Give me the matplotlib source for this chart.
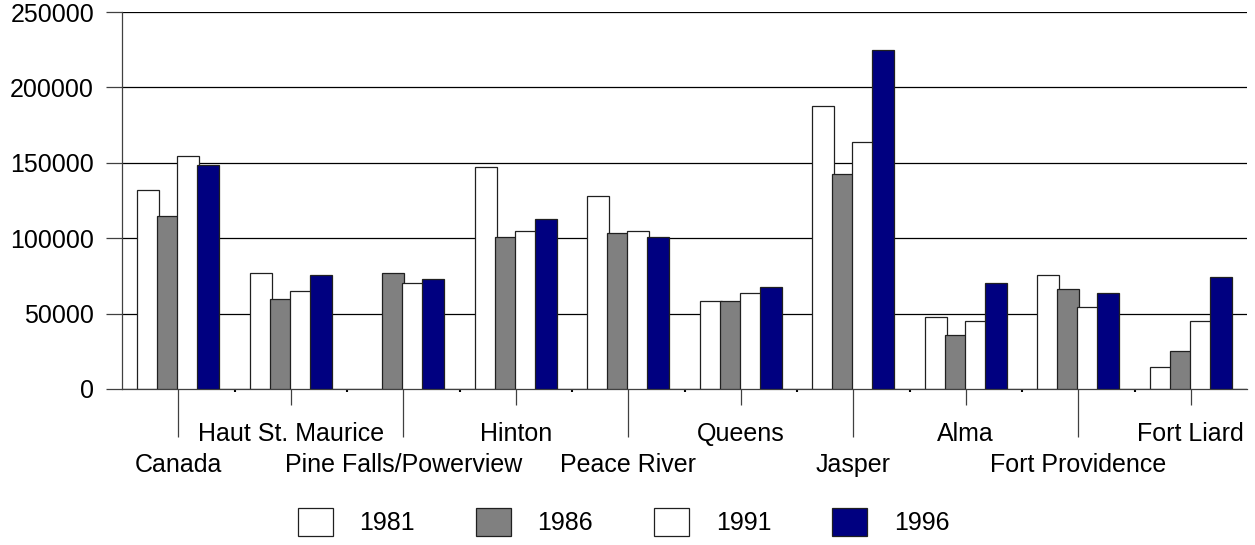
import numpy as np
import matplotlib.pyplot as plt

plt.rcParams['font.family'] = ['Liberation Sans', 'DejaVu Sans']

places = ['Canada', 'Haut St. Maurice', 'Pine Falls/Powerview', 'Hinton', 'Peace River',
          'Queens', 'Jasper', 'Alma', 'Fort Providence', 'Fort Liard']
years = ['1981', '1986', '1991', '1996']

# one list per census year, same order as places (nan = no figure)
v1981 = [132000, 76700, np.nan, 147000, 128200, 58100, 187700, 47500, 75600, 14400]
v1986 = [115000, 59500, 76700, 100600, 103200, 58100, 142800, 35800, 66100, 25200]
v1991 = [154700, 65000, 70100, 104600, 104600, 63700, 163800, 45100, 54100, 45100]
v1996 = [148500, 75400, 72700, 112500, 100500, 67600, 224600, 70100, 63700, 74100]
series = [v1981, v1986, v1991, v1996]

colors = ['white', '#808080', 'white', '#000080']
edge = '#202020'
axis_col = '#404040'
FS = 18

fig = plt.figure(figsize=(12.55, 5.45), dpi=100)
ax = fig.add_axes([122 / 1255, 1 - 389 / 545, 1125 / 1255, 377 / 545])

x = np.arange(len(places))
step = 0.178
width = 0.195
for i, (vals, col, yr) in enumerate(zip(series, colors, years)):
    ax.bar(x + (i - 1.5) * step, vals, width=width, color=col, edgecolor=edge,
           linewidth=0.9, label=yr, zorder=2 + i)

ax.set_xlim(-0.5, len(places) - 0.5)
ax.set_ylim(0, 250000)
ax.set_yticks(np.arange(0, 250001, 50000))
ax.yaxis.grid(True, color='black', linewidth=0.9)
ax.set_axisbelow(True)

for s in ['top', 'right']:
    ax.spines[s].set_visible(False)
for s in ['left', 'bottom']:
    ax.spines[s].set_color(axis_col)
    ax.spines[s].set_linewidth(0.9)

ax.tick_params(axis='y', length=11.5, pad=8.6, width=0.9, color=axis_col, labelsize=FS)

# staggered category labels: even ones on the lower row with long leader ticks
ax.set_xticks(x[::2], places[::2])
ax.set_xticks(x[1::2], places[1::2], minor=True)
ax.tick_params(axis='x', which='major', length=34.6, pad=11.4, width=0.9, color=axis_col,
               labelsize=FS)
ax.tick_params(axis='x', which='minor', length=11.5, pad=12.3, width=0.9, color=axis_col,
               labelsize=FS)

# little marks between the groups
sec = ax.secondary_xaxis('bottom')
sec.set_xticks(np.arange(0.5, len(places) - 0.5, 1))
sec.tick_params(length=2, width=1.5, color='black', labelbottom=False)
sec.spines['bottom'].set_visible(False)

fig.legend(loc='center', bbox_to_anchor=(0.497, 1 - 522 / 545), ncol=4, frameon=False,
           fontsize=FS, handlelength=1.4, handleheight=1.36, handletextpad=1.05,
           columnspacing=2.45)

fig.savefig('out.png', dpi=100)
